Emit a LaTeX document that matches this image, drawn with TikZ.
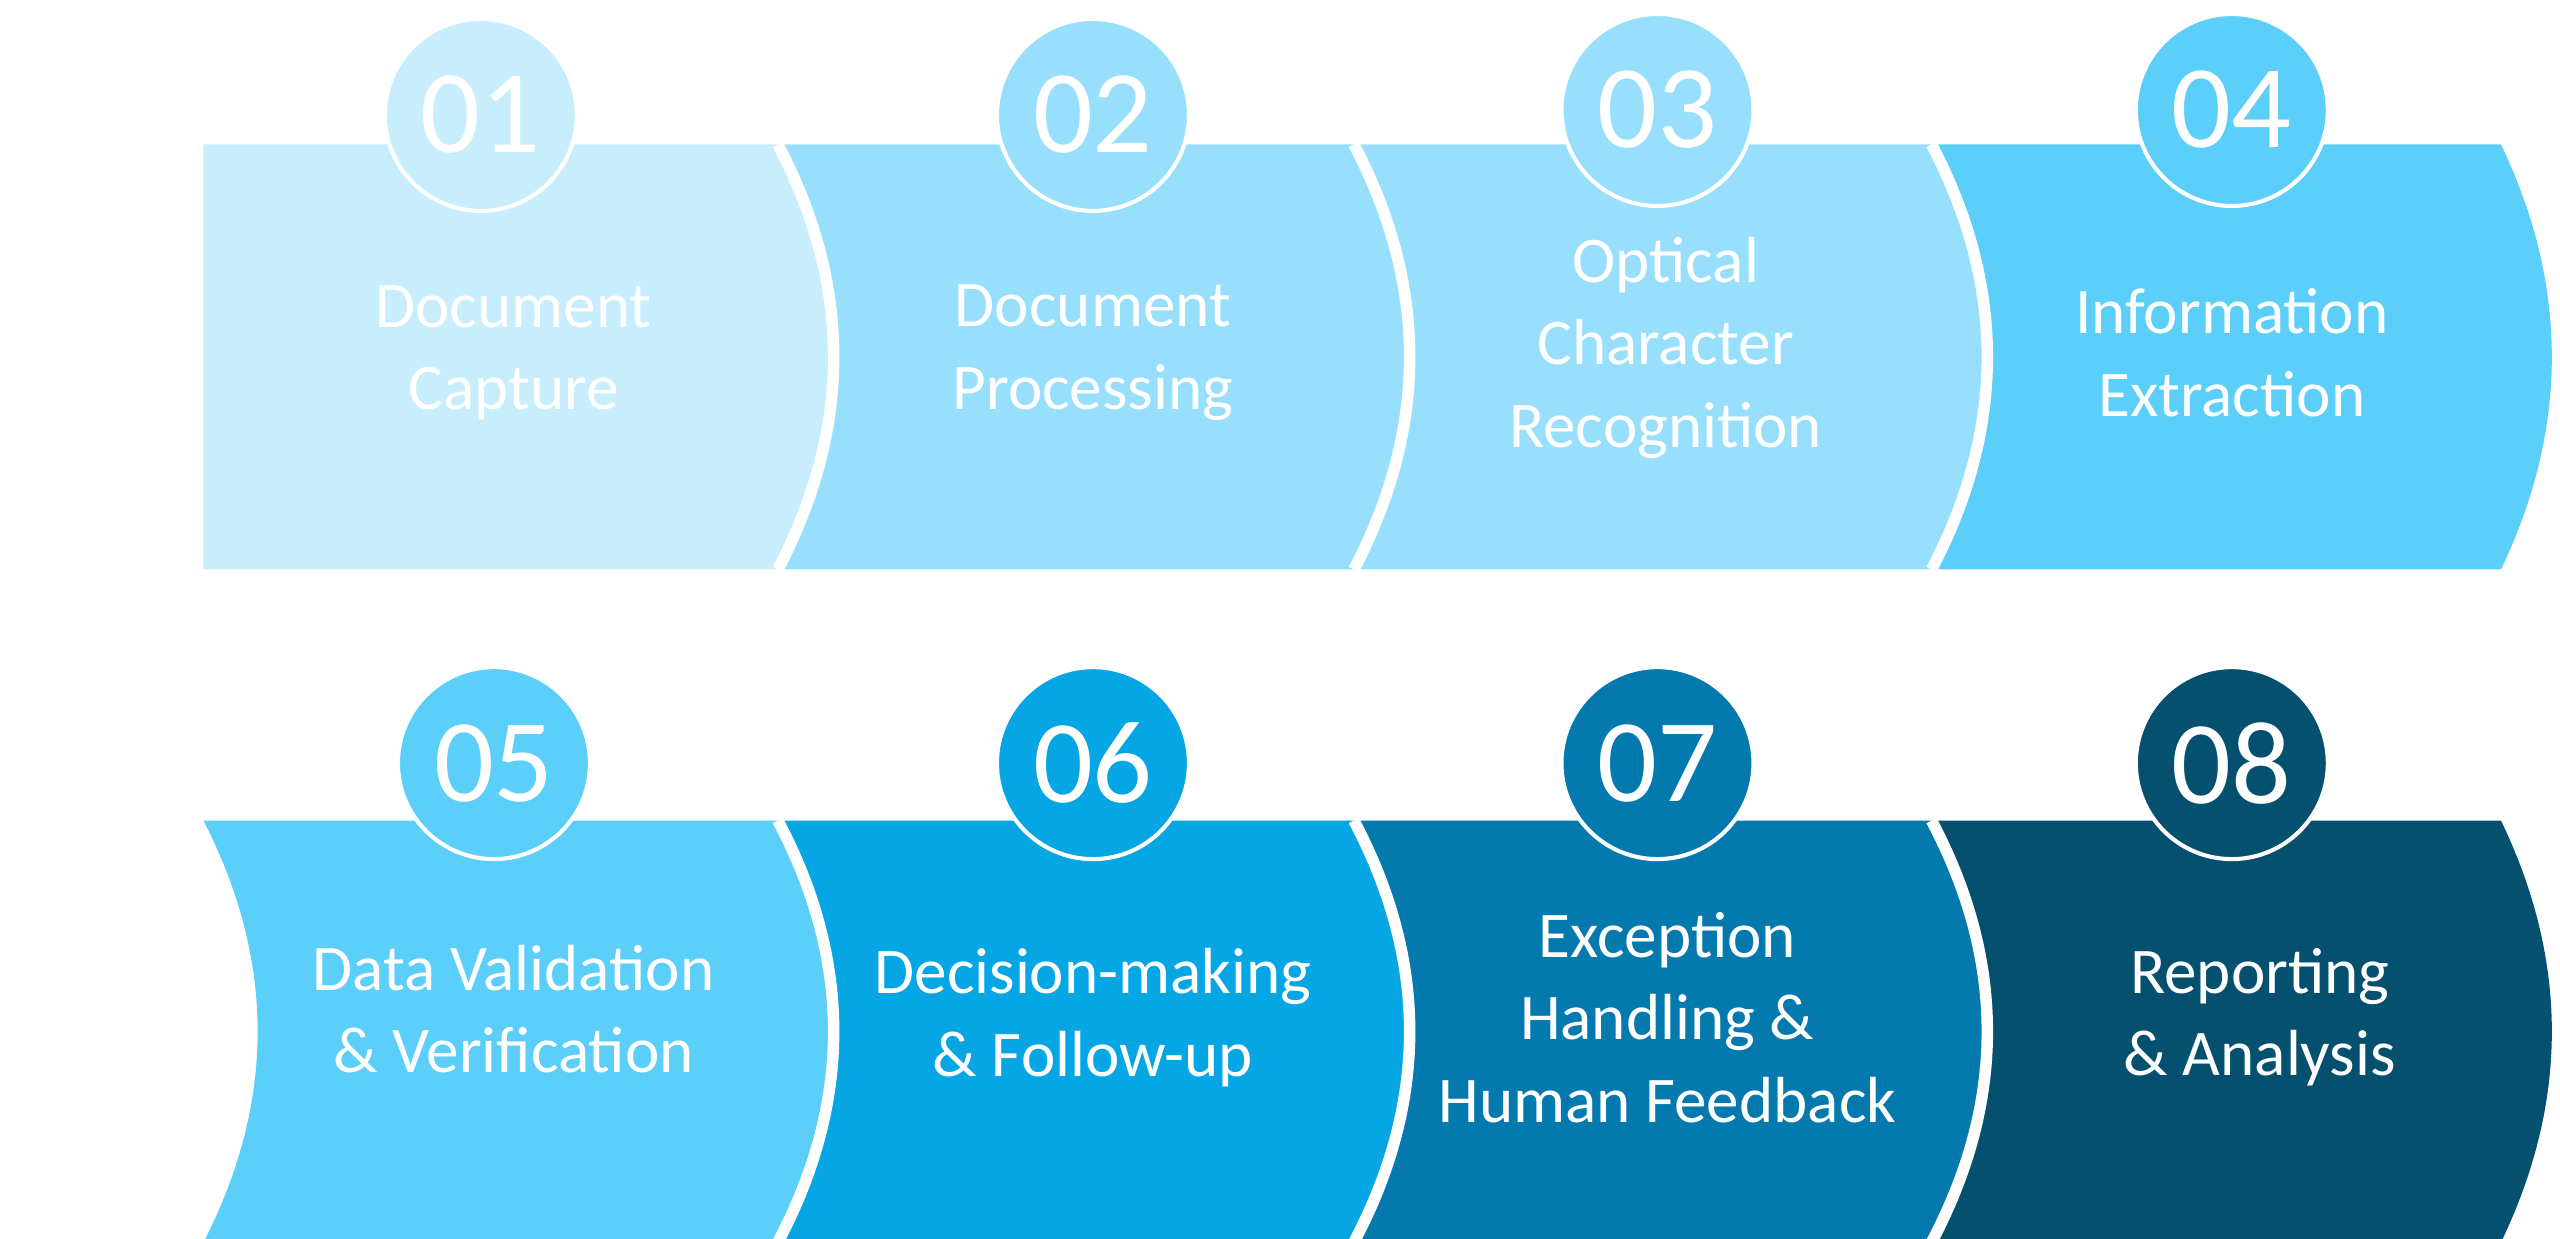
\documentclass[tikz,border=0pt]{standalone}
\usepackage{fontspec}
\setmainfont{Carlito}
\definecolor{stepA}{HTML}{C8EDFC}
\definecolor{stepB}{HTML}{97DFFC}
\definecolor{stepC}{HTML}{5BCEFA}
\definecolor{stepD}{HTML}{05A6E3}
\definecolor{stepE}{HTML}{0479AE}
\definecolor{stepF}{HTML}{04506E}
\tikzset{
  steptext/.style={text=white, align=center, font=\fontsize{11.3}{14.3}\selectfont},
  stepnum/.style={circle, minimum size=1.17cm, draw=white, line width=0.025cm,
    text=white, font=\fontsize{20.5}{20.5}\selectfont, inner sep=0pt},
  gap/.style={white, line width=0.07cm}
}
% band from x=#1 (bulge #2) to x=#3 (bulge #4), top #5, bottom #6
\newcommand{\band}[7]{%
  \fill[#7] (#1,#5) -- (#3,#5)
    .. controls ({#3+4*#4/3},{#5+(#6-#5)/3}) and ({#3+4*#4/3},{#6-(#6-#5)/3}) .. (#3,#6)
    -- (#1,#6)
    .. controls ({#1+4*#2/3},{#6-(#6-#5)/3}) and ({#1+4*#2/3},{#5+(#6-#5)/3}) .. (#1,#5) -- cycle;}
\newcommand{\cut}[4]{%
  \draw[gap] (#1,#3)
    .. controls ({#1+4*#2/3},{#3+(#4-#3)/3}) and ({#1+4*#2/3},{#4-(#4-#3)/3}) .. (#1,#4);}
\begin{document}
\begin{tikzpicture}
  \useasboundingbox (0,0) rectangle (15.6,-7.544);
  % top row
  \band{1.24}{0}{4.74}{0.34}{-0.88}{-3.47}{stepA}
  \band{4.74}{0.34}{8.25}{0.34}{-0.88}{-3.47}{stepB}
  \band{8.25}{0.34}{11.77}{0.34}{-0.88}{-3.47}{stepB}
  \band{11.77}{0.34}{15.24}{0.31}{-0.88}{-3.47}{stepC}
  \foreach \x in {4.74,8.25,11.77} {\cut{\x}{0.34}{-0.88}{-3.47}}
  % bottom row
  \band{1.24}{0.33}{4.74}{0.34}{-5.00}{-7.57}{stepC}
  \band{4.74}{0.34}{8.25}{0.34}{-5.00}{-7.57}{stepD}
  \band{8.25}{0.34}{11.77}{0.34}{-5.00}{-7.57}{stepE}
  \band{11.77}{0.34}{15.24}{0.31}{-5.00}{-7.57}{stepF}
  \foreach \x in {4.74,8.25,11.77} {\cut{\x}{0.34}{-5.00}{-7.57}}
  % numbers
  \node[stepnum, fill=stepA] (n1) at (2.93,-0.70) {01};
  \node[stepnum, fill=stepB] (n2) at (6.66,-0.70) {02};
  \node[stepnum, fill=stepB] (n3) at (10.10,-0.67) {03};
  \node[stepnum, fill=stepC] (n4) at (13.60,-0.67) {04};
  \node[stepnum, fill=stepC] (n5) at (3.01,-4.65) {05};
  \node[stepnum, fill=stepD] (n6) at (6.66,-4.65) {06};
  \node[stepnum, fill=stepE] (n7) at (10.10,-4.65) {07};
  \node[stepnum, fill=stepF] (n8) at (13.60,-4.65) {08};
  % labels
  \node[steptext] (t1) at (3.13,-2.15) {Document\\Capture};
  \node[steptext] (t2) at (6.66,-2.15) {Document\\Processing};
  \node[steptext] (t3) at (10.15,-2.12) {Optical\\Character\\Recognition};
  \node[steptext] (t4) at (13.60,-2.15) {Information\\Extraction};
  \node[steptext] (t5) at (3.13,-6.15) {Data Validation\\\& Verification};
  \node[steptext] (t6) at (6.66,-6.20) {Decision-making\\\& Follow-up};
  \node[steptext] (t7) at (10.16,-6.20) {Exception\\Handling \&\\Human Feedback};
  \node[steptext] (t8) at (13.77,-6.20) {Reporting\\\& Analysis};
\end{tikzpicture}
\end{document}
